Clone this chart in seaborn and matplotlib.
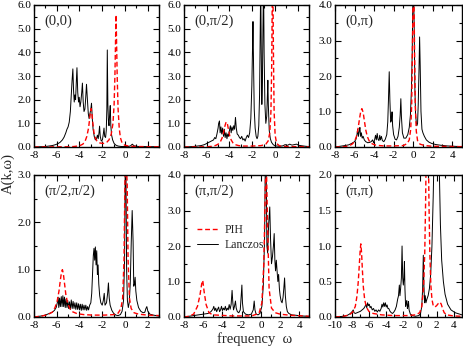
import numpy as np
import matplotlib
matplotlib.use("Agg")
import matplotlib.pyplot as plt
import seaborn as sns
from matplotlib.ticker import MultipleLocator, FormatStrFormatter

sns.set_theme(style="ticks")
plt.rcParams['font.family'] = ['Liberation Serif', 'DejaVu Serif']
plt.rcParams['axes.unicode_minus'] = False

# spectra, (omega, A) pairs
lan_00 = [(-8, 0), (-7.5, 0.01), (-7, 0.02), (-6.7, 0.04), (-6.4, 0.06), (-6.1, 0.1), (-5.9, 0.14),
          (-5.7, 0.2), (-5.5, 0.3), (-5.35, 0.42), (-5.2, 0.6), (-5.1, 0.75), (-5.0, 0.85), (-4.9, 1.05),
          (-4.8, 1.5), (-4.72, 2.2), (-4.65, 2.8), (-4.58, 3.3), (-4.52, 2.4), (-4.46, 1.9), (-4.4, 2.2),
          (-4.34, 2.0), (-4.28, 2.7), (-4.22, 3.35), (-4.15, 2.3), (-4.08, 1.9), (-4.02, 2.1), (-3.95, 1.7),
          (-3.88, 1.9), (-3.8, 2.3), (-3.74, 2.7), (-3.67, 1.9), (-3.6, 1.5), (-3.52, 1.6), (-3.46, 2.0),
          (-3.38, 2.65), (-3.3, 2.0), (-3.22, 1.4), (-3.15, 1.2), (-3.08, 1.4), (-3.0, 1.6), (-2.94, 1.85),
          (-2.87, 1.2), (-2.8, 0.75), (-2.7, 0.45), (-2.6, 0.3), (-2.5, 0.35), (-2.42, 0.5), (-2.35, 0.35),
          (-2.28, 0.6), (-2.23, 0.88), (-2.17, 0.45), (-2.08, 0.25), (-1.98, 0.3), (-1.9, 0.55), (-1.84, 0.8),
          (-1.78, 0.45), (-1.7, 0.4), (-1.64, 0.7), (-1.59, 1.6), (-1.55, 4.1), (-1.5, 1.8), (-1.45, 1.1),
          (-1.4, 0.9), (-1.34, 1.4), (-1.29, 1.75), (-1.24, 0.9), (-1.17, 0.5), (-1.08, 0.3), (-0.95, 0.15),
          (-0.8, 0.08), (-0.6, 0.04), (-0.3, 0.02), (0.3, 0.02), (0.5, 0.05), (0.65, 0.12), (0.8, 0.05),
          (1.2, 0.02), (3, 0.01)]
pih_00 = [(-8, 0), (-5, 0.01), (-4.5, 0.02), (-4.0, 0.05), (-3.7, 0.12), (-3.5, 0.25), (-3.35, 0.45),
          (-3.2, 0.8), (-3.1, 1.2), (-3.03, 1.5), (-2.97, 1.62), (-2.9, 1.4), (-2.82, 1.0), (-2.72, 0.6),
          (-2.6, 0.38), (-2.45, 0.25), (-2.2, 0.17), (-1.9, 0.15), (-1.6, 0.2), (-1.4, 0.3), (-1.2, 0.55),
          (-1.05, 1.0), (-0.95, 1.8), (-0.88, 3.0), (-0.82, 4.6), (-0.78, 5.58), (-0.74, 4.6), (-0.68, 3.0),
          (-0.6, 1.6), (-0.5, 0.8), (-0.4, 0.4), (-0.25, 0.17), (0, 0.07), (0.5, 0.03), (1, 0.02), (3, 0.01)]

lan_0h = [(-8, 0), (-7.5, 0.01), (-7, 0.03), (-6.5, 0.06), (-6.2, 0.1), (-6, 0.15), (-5.8, 0.2),
          (-5.6, 0.25), (-5.4, 0.3), (-5.3, 0.4), (-5.2, 0.35), (-5.1, 0.55), (-5.0, 0.8), (-4.95, 1.0),
          (-4.88, 1.1), (-4.82, 0.6), (-4.75, 0.85), (-4.68, 0.55), (-4.6, 0.8), (-4.52, 0.45), (-4.45, 0.75),
          (-4.38, 0.4), (-4.3, 0.6), (-4.22, 0.35), (-4.15, 0.55), (-4.08, 0.45), (-4.0, 0.7), (-3.92, 0.9),
          (-3.85, 0.6), (-3.78, 0.85), (-3.7, 0.7), (-3.62, 0.9), (-3.55, 0.75), (-3.47, 1.25), (-3.4, 0.8),
          (-3.32, 0.55), (-3.22, 0.5), (-3.12, 0.4), (-3.02, 0.35), (-2.92, 0.45), (-2.82, 0.3), (-2.72, 0.35),
          (-2.62, 0.25), (-2.52, 0.4), (-2.42, 0.5), (-2.32, 0.4), (-2.22, 0.6), (-2.12, 1.2), (-2.03, 2.6),
          (-1.97, 4.2), (-1.93, 5.3), (-1.88, 3.5), (-1.82, 1.6), (-1.74, 0.8), (-1.65, 0.45), (-1.57, 0.35),
          (-1.5, 0.45), (-1.42, 0.9), (-1.35, 2.2), (-1.3, 4.5), (-1.25, 7), (-1.2, 4.0), (-1.15, 1.8),
          (-1.1, 2.8), (-1.05, 5), (-1.0, 7), (-0.95, 4), (-0.88, 1.8), (-0.8, 1.0), (-0.72, 1.3), (-0.66, 2.2),
          (-0.62, 2.82), (-0.58, 1.8), (-0.5, 0.7), (-0.4, 0.35), (-0.3, 0.2), (-0.15, 0.1), (0, 0.05),
          (0.4, 0.03), (0.7, 0.05), (0.9, 0.1), (1.1, 0.07), (1.3, 0.12), (1.5, 0.08), (1.7, 0.1), (1.9, 0.12),
          (2.1, 0.07), (2.4, 0.05), (2.7, 0.03), (3, 0.02)]
pih_0h = [(-8, 0), (-6, 0.01), (-5.5, 0.03), (-5.2, 0.07), (-5.0, 0.12), (-4.8, 0.22), (-4.65, 0.38),
          (-4.52, 0.6), (-4.42, 0.85), (-4.32, 1.02), (-4.25, 1.06), (-4.17, 0.95), (-4.08, 0.72),
          (-3.98, 0.48), (-3.85, 0.3), (-3.7, 0.18), (-3.5, 0.1), (-3.2, 0.06), (-2.8, 0.04), (-2.0, 0.04),
          (-1.2, 0.06), (-0.8, 0.12), (-0.6, 0.25), (-0.45, 0.6), (-0.35, 1.5), (-0.28, 3.5), (-0.23, 6.5),
          (-0.18, 7.0), (-0.13, 4.0), (-0.07, 1.5), (0.02, 0.5), (0.15, 0.15), (0.4, 0.05), (1, 0.02), (3, 0.01)]

lan_0p = [(-8, 0), (-7.5, 0.02), (-7, 0.04), (-6.6, 0.06), (-6.3, 0.1), (-6.0, 0.15), (-5.85, 0.22),
          (-5.75, 0.35), (-5.68, 0.5), (-5.6, 0.3), (-5.52, 0.45), (-5.45, 0.55), (-5.38, 0.3), (-5.3, 0.4),
          (-5.22, 0.25), (-5.12, 0.3), (-5.0, 0.2), (-4.85, 0.15), (-4.65, 0.12), (-4.45, 0.13), (-4.3, 0.15),
          (-4.15, 0.2), (-4.05, 0.12), (-3.95, 0.2), (-3.85, 0.33), (-3.77, 0.2), (-3.68, 0.38), (-3.6, 0.22),
          (-3.5, 0.18), (-3.42, 0.33), (-3.35, 0.2), (-3.25, 0.3), (-3.15, 0.18), (-3.0, 0.15), (-2.85, 0.22),
          (-2.7, 0.35), (-2.6, 0.7), (-2.52, 1.4), (-2.45, 2.12), (-2.38, 1.3), (-2.3, 0.7), (-2.22, 0.75),
          (-2.16, 0.99), (-2.1, 0.6), (-2.0, 0.35), (-1.85, 0.22), (-1.7, 0.2), (-1.55, 0.3), (-1.42, 0.55),
          (-1.33, 0.9), (-1.26, 1.36), (-1.2, 0.85), (-1.1, 0.4), (-0.95, 0.25), (-0.75, 0.25), (-0.55, 0.35),
          (-0.4, 0.55), (-0.28, 0.9), (-0.18, 1.6), (-0.1, 2.6), (-0.03, 4.2), (0.03, 4.5), (0.1, 3.5),
          (0.18, 1.6), (0.25, 0.9), (0.32, 0.7), (0.38, 0.6), (0.45, 0.66), (0.52, 1.2), (0.6, 2.2),
          (0.66, 3.1), (0.72, 2.3), (0.8, 1.0), (0.9, 0.5), (1.0, 0.4), (1.15, 0.3), (1.35, 0.2), (1.6, 0.14),
          (1.9, 0.1), (2.3, 0.07), (2.8, 0.05), (3.5, 0.03), (4.2, 0.02), (5, 0.01)]
pih_0p = [(-8, 0), (-7, 0.01), (-6.5, 0.04), (-6.2, 0.09), (-6.0, 0.16), (-5.8, 0.3), (-5.65, 0.5),
          (-5.5, 0.78), (-5.38, 0.98), (-5.25, 1.08), (-5.12, 0.98), (-5.0, 0.75), (-4.85, 0.48), (-4.7, 0.3),
          (-4.5, 0.17), (-4.2, 0.09), (-3.8, 0.05), (-3, 0.03), (-2, 0.03), (-1, 0.04), (-0.6, 0.1),
          (-0.4, 0.2), (-0.25, 0.5), (-0.15, 1.2), (-0.07, 2.8), (0.0, 4.5), (0.07, 4.5), (0.14, 2.8),
          (0.22, 1.2), (0.32, 0.45), (0.45, 0.18), (0.7, 0.08), (1.2, 0.04), (2, 0.02), (5, 0.01)]

lan_hh = [(-8, 0), (-7.7, 0.01), (-7.4, 0.02), (-7, 0.04), (-6.7, 0.07), (-6.4, 0.1), (-6.2, 0.14),
          (-6.05, 0.2), (-5.95, 0.3), (-5.88, 0.42), (-5.82, 0.2), (-5.75, 0.4), (-5.68, 0.22), (-5.6, 0.43),
          (-5.53, 0.22), (-5.46, 0.45), (-5.39, 0.22), (-5.32, 0.42), (-5.25, 0.2), (-5.18, 0.38), (-5.1, 0.2),
          (-5.03, 0.35), (-4.96, 0.18), (-4.88, 0.32), (-4.8, 0.16), (-4.72, 0.36), (-4.64, 0.18), (-4.56, 0.33),
          (-4.48, 0.18), (-4.4, 0.3), (-4.32, 0.16), (-4.24, 0.3), (-4.16, 0.16), (-4.08, 0.28), (-4.0, 0.15),
          (-3.92, 0.27), (-3.84, 0.14), (-3.76, 0.27), (-3.68, 0.15), (-3.6, 0.25), (-3.52, 0.15), (-3.44, 0.25),
          (-3.36, 0.14), (-3.28, 0.22), (-3.2, 0.15), (-3.1, 0.25), (-3.0, 0.3), (-2.92, 0.5), (-2.85, 0.9),
          (-2.78, 1.3), (-2.72, 1.45), (-2.66, 1.2), (-2.6, 1.48), (-2.54, 1.1), (-2.48, 1.4), (-2.42, 0.9),
          (-2.36, 1.1), (-2.3, 0.7), (-2.22, 0.45), (-2.12, 0.3), (-2.0, 0.25), (-1.9, 0.35), (-1.82, 0.5),
          (-1.75, 0.25), (-1.62, 0.3), (-1.52, 0.5), (-1.45, 0.72), (-1.38, 0.4), (-1.3, 0.25), (-1.15, 0.14),
          (-1.0, 0.08), (-0.8, 0.04), (-0.6, 0.03), (-0.4, 0.05), (-0.25, 0.12), (-0.12, 0.35), (-0.03, 1.2),
          (0.03, 3.2), (0.09, 3.2), (0.15, 1.0), (0.22, 0.35), (0.3, 0.2), (0.38, 0.3), (0.47, 0.7),
          (0.56, 1.6), (0.64, 2.25), (0.72, 1.6), (0.78, 0.65), (0.84, 0.7), (0.9, 0.84), (0.96, 0.55),
          (1.05, 0.35), (1.2, 0.2), (1.4, 0.12), (1.6, 0.09), (1.75, 0.1), (1.85, 0.18), (1.93, 0.22),
          (2.02, 0.12), (2.2, 0.06), (2.5, 0.04), (3, 0.02)]
pih_hh = [(-8, 0), (-7.3, 0.02), (-6.8, 0.05), (-6.4, 0.1), (-6.15, 0.2), (-5.95, 0.35), (-5.8, 0.55),
          (-5.68, 0.78), (-5.58, 0.95), (-5.5, 1.0), (-5.42, 0.92), (-5.32, 0.72), (-5.2, 0.48), (-5.05, 0.3),
          (-4.85, 0.18), (-4.6, 0.11), (-4.2, 0.07), (-3.6, 0.05), (-2.8, 0.04), (-1.8, 0.04), (-1.0, 0.05),
          (-0.6, 0.08), (-0.35, 0.18), (-0.2, 0.4), (-0.08, 1.2), (0.0, 2.8), (0.06, 3.2), (0.14, 3.2),
          (0.2, 2.8), (0.28, 1.2), (0.4, 0.4), (0.55, 0.18), (0.8, 0.09), (1.2, 0.06), (2, 0.04), (3, 0.03)]

lan_ph = [(-8, 0), (-7.5, 0.02), (-7, 0.04), (-6.5, 0.06), (-6, 0.08), (-5.5, 0.1), (-5.2, 0.15),
          (-5.0, 0.22), (-4.9, 0.3), (-4.8, 0.18), (-4.7, 0.25), (-4.6, 0.15), (-4.5, 0.22), (-4.4, 0.28),
          (-4.3, 0.15), (-4.2, 0.2), (-4.1, 0.3), (-4.0, 0.18), (-3.9, 0.25), (-3.8, 0.2), (-3.7, 0.3),
          (-3.6, 0.18), (-3.5, 0.25), (-3.4, 0.2), (-3.3, 0.35), (-3.2, 0.22), (-3.1, 0.35), (-3.0, 0.75),
          (-2.92, 0.4), (-2.85, 0.2), (-2.75, 0.3), (-2.65, 0.45), (-2.57, 0.25), (-2.45, 0.15), (-2.3, 0.12),
          (-2.15, 0.2), (-2.05, 0.6), (-1.98, 0.9), (-1.92, 0.4), (-1.82, 0.15), (-1.6, 0.08), (-1.3, 0.06),
          (-1.0, 0.08), (-0.8, 0.2), (-0.7, 0.45), (-0.62, 0.2), (-0.5, 0.08), (-0.3, 0.06), (-0.1, 0.1),
          (0.1, 0.3), (0.25, 0.9), (0.38, 2.2), (0.46, 4.5), (0.54, 4.5), (0.62, 2.0), (0.7, 1.8), (0.8, 2.6),
          (0.92, 3.1), (1.0, 2.2), (1.1, 1.5), (1.2, 1.7), (1.3, 2.0), (1.38, 2.35), (1.45, 1.6), (1.52, 1.3),
          (1.6, 1.6), (1.68, 1.3), (1.76, 1.0), (1.84, 1.2), (1.92, 0.8), (2.0, 0.6), (2.1, 0.45), (2.2, 0.4),
          (2.3, 0.55), (2.38, 0.8), (2.46, 1.1), (2.54, 0.6), (2.64, 0.3), (2.75, 0.15), (2.9, 0.1),
          (3.2, 0.06), (3.6, 0.05), (4.2, 0.03), (5, 0.02)]
pih_ph = [(-8, 0), (-7.5, 0.02), (-7, 0.08), (-6.6, 0.3), (-6.35, 0.6), (-6.15, 0.95), (-6.05, 1.03),
          (-5.9, 0.7), (-5.7, 0.35), (-5.4, 0.12), (-5, 0.06), (-3, 0.03), (-1, 0.03), (-0.2, 0.1), (0.1, 0.4),
          (0.3, 1.5), (0.45, 3.5), (0.55, 4.5), (0.7, 2.5), (0.85, 0.8), (1.1, 0.25), (1.5, 0.12), (2.0, 0.08),
          (3, 0.05), (5, 0.02)]

lan_pp = [(-10, 0), (-9.5, 0.005), (-9, 0.01), (-8.6, 0.02), (-8.3, 0.04), (-8.1, 0.06), (-7.95, 0.08),
          (-7.85, 0.1), (-7.75, 0.06), (-7.6, 0.05), (-7.4, 0.06), (-7.2, 0.07), (-7.0, 0.08), (-6.8, 0.1),
          (-6.6, 0.12), (-6.45, 0.15), (-6.35, 0.18), (-6.25, 0.13), (-6.15, 0.2), (-6.05, 0.16), (-5.95, 0.18),
          (-5.85, 0.13), (-5.75, 0.15), (-5.6, 0.1), (-5.45, 0.12), (-5.3, 0.08), (-5.15, 0.1), (-5.0, 0.07),
          (-4.85, 0.1), (-4.7, 0.08), (-4.55, 0.12), (-4.45, 0.18), (-4.35, 0.14), (-4.25, 0.2), (-4.15, 0.15),
          (-4.05, 0.2), (-3.95, 0.14), (-3.85, 0.17), (-3.75, 0.12), (-3.65, 0.12), (-3.5, 0.08), (-3.35, 0.06),
          (-3.2, 0.05), (-3.05, 0.07), (-2.9, 0.1), (-2.75, 0.15), (-2.6, 0.25), (-2.5, 0.3), (-2.4, 0.45),
          (-2.33, 0.3), (-2.25, 0.4), (-2.16, 0.55), (-2.08, 1.0), (-2.0, 0.55), (-1.93, 0.45), (-1.86, 0.55),
          (-1.8, 0.78), (-1.74, 0.4), (-1.66, 0.15), (-1.58, 0.2), (-1.52, 0.23), (-1.45, 0.12), (-1.38, 0.16),
          (-1.32, 0.22), (-1.25, 0.1), (-1.1, 0.04), (-0.9, 0.02), (-0.5, 0.01), (-0.1, 0.02), (0.1, 0.05),
          (0.25, 0.15), (0.35, 0.4), (0.43, 0.87), (0.5, 0.45), (0.58, 0.2), (0.66, 0.3), (0.74, 0.2),
          (0.85, 0.25), (1.0, 0.3), (1.15, 0.4), (1.3, 0.6), (1.45, 1.0), (1.6, 1.7), (1.72, 2.4), (1.85, 3.5),
          (2.0, 4.0), (2.15, 3.5), (2.3, 2.2), (2.45, 1.3), (2.6, 0.8), (2.8, 0.5), (3.0, 0.32), (3.3, 0.18),
          (3.7, 0.1), (4.2, 0.06), (5, 0.03)]
pih_pp = [(-10, 0), (-9, 0.01), (-8.3, 0.03), (-7.9, 0.07), (-7.6, 0.15), (-7.4, 0.3), (-7.25, 0.5),
          (-7.12, 0.75), (-7.02, 0.95), (-6.95, 1.03), (-6.86, 0.9), (-6.76, 0.65), (-6.65, 0.42), (-6.5, 0.25),
          (-6.3, 0.14), (-6.0, 0.08), (-5.5, 0.05), (-4.5, 0.03), (-3, 0.02), (-1.5, 0.02), (-0.5, 0.03),
          (0, 0.06), (0.25, 0.15), (0.45, 0.4), (0.6, 0.9), (0.7, 1.6), (0.78, 2.4), (0.9, 2.6), (1.02, 2.4),
          (1.1, 1.6), (1.2, 0.9), (1.32, 0.45), (1.45, 0.25), (1.6, 0.16), (1.8, 0.14), (2.0, 0.16),
          (2.2, 0.19), (2.4, 0.21), (2.55, 0.18), (2.7, 0.12), (2.9, 0.06), (3.2, 0.03), (4, 0.015), (5, 0.01)]

titles = ["(0,0)", "(0,\u03c0/2)", "(0,\u03c0)", "(\u03c0/2,\u03c0/2)", "(\u03c0,\u03c0/2)", "(\u03c0,\u03c0)"]
xlims = [(-8, 3), (-8, 3), (-8, 5), (-8, 3), (-8, 5), (-10, 5)]
ylims = [(0, 6), (0, 6), (0, 4), (0, 3), (0, 4), (0, 2)]
ysteps = [1.0, 1.0, 1.0, 1.0, 1.0, 0.5]
lanczos = [lan_00, lan_0h, lan_0p, lan_hh, lan_ph, lan_pp]
pih = [pih_00, pih_0h, pih_0p, pih_hh, pih_ph, pih_pp]

W, H = 463, 347
fig = plt.figure(figsize=(W / 100, H / 100), dpi=100)
lefts = [34, 184, 335]
widths = [125, 125, 127]
tops = [5, 175]
height = 142

for i in range(6):
    r, c = divmod(i, 3)
    ax = fig.add_axes([lefts[c] / W, 1 - (tops[r] + height) / H, widths[c] / W, height / H])
    wl, al = zip(*lanczos[i])
    wp, ap = zip(*pih[i])
    sns.lineplot(x=list(wl), y=list(al), ax=ax, color="black", lw=0.7, sort=False, estimator=None,
                 legend=False)
    sns.lineplot(x=list(wp), y=list(ap), ax=ax, color="#ff0000", lw=1.0, sort=False, estimator=None,
                 legend=False)
    ax.lines[-1].set_linestyle((0, (3.5, 2)))
    ax.set_xlim(*xlims[i])
    ax.set_ylim(*ylims[i])
    ax.xaxis.set_major_locator(MultipleLocator(2))
    ax.xaxis.set_minor_locator(MultipleLocator(1))
    ax.yaxis.set_major_locator(MultipleLocator(ysteps[i]))
    ax.yaxis.set_minor_locator(MultipleLocator(ysteps[i] / 2))
    ax.yaxis.set_major_formatter(FormatStrFormatter("%.1f"))
    ax.tick_params(which="both", direction="in", top=True, right=True, labelsize=8, pad=2,
                   width=0.8, colors="black")
    ax.tick_params(axis="x", pad=3)
    ax.tick_params(which="major", length=4)
    ax.tick_params(which="minor", length=2)
    for s in ax.spines.values():
        s.set_linewidth(1.0)
        s.set_color("black")
    ax.set_xlabel("")
    ax.set_ylabel("")
    ax.text(0.08, 0.93, titles[i], transform=ax.transAxes, fontsize=10.5, va="top", ha="left")
    if i == 4:
        h = ax.get_lines()
        ax.legend([h[1], h[0]], ["PIH", "Lanczos"], loc="center left", bbox_to_anchor=(0.02, 0.56),
                  frameon=False, fontsize=8.5, handlelength=1.8, handletextpad=0.5, labelspacing=0.3)

fig.text(0.018, 0.5, "A(k,\u03c9)", rotation=90, fontsize=10.5, ha="center", va="center")
fig.text(0.549, 0.022, "frequency  \u03c9", fontsize=10.5, ha="center", va="center")

fig.savefig("out.png", dpi=100)
